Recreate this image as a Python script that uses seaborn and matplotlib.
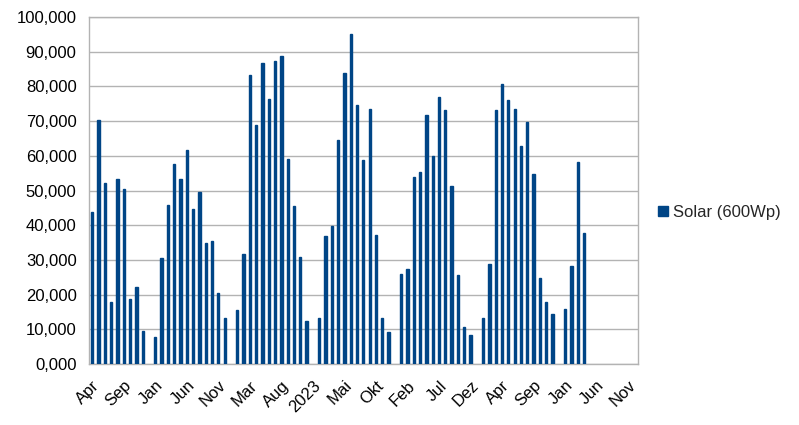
import numpy as np
import pandas as pd
import matplotlib
matplotlib.use("Agg")
import matplotlib.pyplot as plt
import seaborn as sns
from matplotlib.ticker import FuncFormatter, FixedLocator

# monthly yield in kWh, one list per year (blank row with year label between years)
months = ["Jan", "Feb", "Mar", "Apr", "Mai", "Jun", "Jul", "Aug", "Sep", "Okt", "Nov", "Dez"]
year_rows = ["2021", "2022", "2023", "2024", "2025", "2026"]
solar_2020 = [43.9, 70.3, 52.2, 17.8, 53.2, 50.4, 18.7, 22.3, 9.6]          # Apr - Dez
solar_2021 = [7.9, 30.5, 45.9, 57.7, 53.2, 61.6, 44.7, 49.6, 34.8, 35.4, 20.5, 13.3]
solar_2022 = [15.5, 31.7, 83.4, 68.9, 86.8, 76.3, 87.2, 88.9, 59.2, 45.5, 30.9, 12.5]
solar_2023 = [13.3, 36.9, 39.8, 64.5, 83.9, 95.2, 74.6, 58.8, 73.5, 37.1, 13.2, 9.3]
solar_2024 = [25.9, 27.3, 53.8, 55.2, 71.8, 59.9, 76.9, 73.2, 51.3, 25.6, 10.8, 8.3]
solar_2025 = [13.4, 28.8, 73.2, 80.8, 76.0, 73.5, 62.9, 69.6, 54.8, 24.8, 17.9, 14.4]
solar_2026 = [15.8, 28.3, 58.2, 37.8]                                          # Jan - Apr, rest empty

series_name = "Solar (600Wp)"
bar_color = "#004586"
grid_color = "#b3b3b3"

# build the category table like the spreadsheet rows
labels = months[3:]
values = list(solar_2020)
for yr, data in zip(year_rows, [solar_2021, solar_2022, solar_2023, solar_2024, solar_2025, solar_2026]):
    labels.append(yr)
    values.append(np.nan)
    labels += months
    values += list(data) + [np.nan] * (12 - len(data))

df = pd.DataFrame({"slot": np.arange(len(labels)), "label": labels, "kwh": values})

sns.set_style("white")
plt.rcParams["font.family"] = ["Liberation Sans", "DejaVu Sans"]

fig = plt.figure(figsize=(7.99, 4.25), dpi=100)
ax = fig.add_axes([0.1115, 0.1435, 0.6865, 0.8165])

sns.barplot(data=df, x="slot", y="kwh", color=bar_color, width=0.36,
            errorbar=None, saturation=1, label=series_name, ax=ax, zorder=3,
            edgecolor=bar_color, linewidth=1.0)

n = len(df)
ax.set_xlim(-0.5, n - 0.5)
ax.set_ylim(0, 100)
ax.set_yticks(np.arange(0, 101, 10))
ax.yaxis.set_major_formatter(FuncFormatter(lambda v, p: f"{v:.3f}".replace(".", ",")))
ax.grid(axis="y", color=grid_color, linewidth=1, zorder=0)
ax.set_axisbelow(True)

shown = df.iloc[::5]
ax.xaxis.set_major_locator(FixedLocator(shown["slot"].tolist()))
ax.set_xticklabels(shown["label"].tolist(), rotation=45, ha="right", va="top",
                   rotation_mode="anchor")
ax.xaxis.set_minor_locator(FixedLocator(np.arange(-0.5, n, 1.0)))
ax.tick_params(axis="x", which="major", length=0, pad=10, labelsize=12, colors="black")
ax.tick_params(axis="x", which="minor", length=5.5, width=1, color=grid_color, direction="out")
ax.tick_params(axis="y", length=0, pad=9, labelsize=12, colors="black")
ax.set_xlabel("")
ax.set_ylabel("")

for side in ["left", "right", "top", "bottom"]:
    ax.spines[side].set_visible(True)
    ax.spines[side].set_color(grid_color)
    ax.spines[side].set_linewidth(1)

ax.legend(loc="center left", bbox_to_anchor=(1.025, 0.437), frameon=False, fontsize=12,
          handlelength=0.58, handleheight=0.58, handletextpad=0.35, borderaxespad=0)

fig.savefig("out.png", dpi=100)
